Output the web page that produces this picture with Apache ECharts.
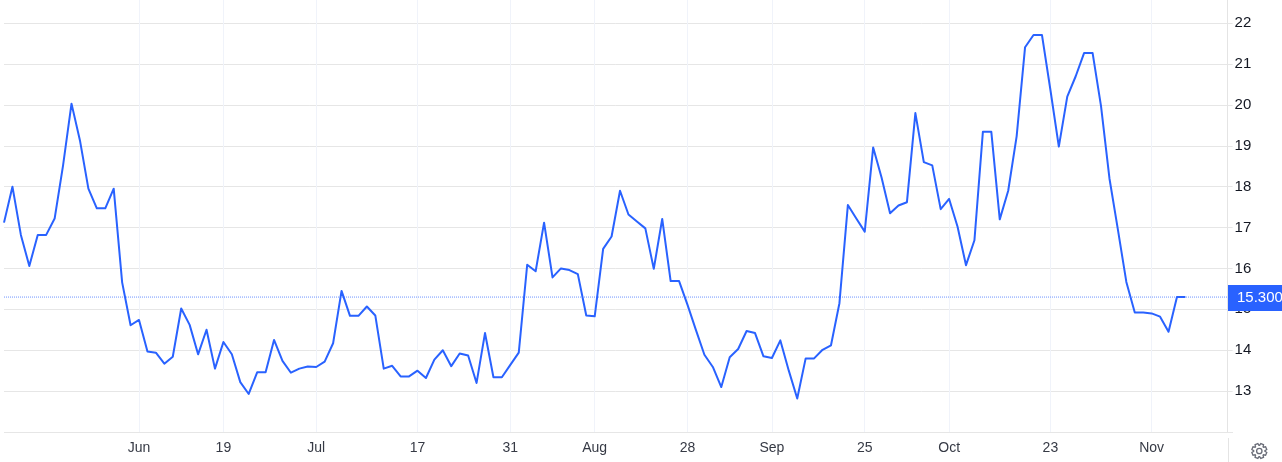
<!DOCTYPE html>
<html>
<head>
<meta charset="utf-8">
<script src="https://cdn.jsdelivr.net/npm/echarts@6/dist/echarts.min.js"></script>
<style>html,body{margin:0;padding:0;background:#fff}#c{width:1282px;height:462px}</style>
</head>
<body>
<div id="c"></div>
<script>
var values = [17.12,18.0,16.82,16.06,16.82,16.82,17.22,18.52,20.03,19.13,17.95,17.47,17.47,17.95,15.66,14.61,14.74,13.97,13.94,13.67,13.84,15.02,14.62,13.9,14.5,13.55,14.2,13.9,13.22,12.93,13.46,13.46,14.25,13.74,13.45,13.55,13.6,13.59,13.72,14.17,15.45,14.84,14.84,15.07,14.85,13.55,13.62,13.36,13.36,13.5,13.32,
13.77,14.0,13.61,13.92,13.87,13.2,14.42,13.34,13.34,13.64,13.94,16.09,15.93,17.12,15.78,16.0,15.96,15.86,14.85,14.83,16.48,16.78,17.9,17.32,17.15,16.98,15.99,17.21,15.69,15.69,15.11,14.49,13.89,13.59,13.1,13.83,14.03,14.47,14.42,13.85,13.81,14.24,13.5,12.82,13.8,13.8,14.01,14.12,15.15,
17.55,17.22,16.9,18.96,18.22,17.35,17.54,17.62,19.8,18.6,18.52,17.45,17.7,17.02,16.08,16.69,19.34,19.34,17.2,17.9,19.23,21.41,21.71,21.71,20.37,18.98,20.2,20.7,21.27,21.27,19.97,18.2,16.95,15.67,14.92,14.92,14.9,14.82,14.45,15.3,15.3];
var tickLabels = ['Jun','19','Jul','17','31','Aug','28','Sep','25','Oct','23','Nov'];
var tickIndexes = [16,26,37,49,60,70,81,91,102,112,124,136];
var yTicks = [13,14,15,16,17,18,19,20,21,22];
var lastPrice = 15.3;
var slotCount = 146;

var categories = [];
var priceLine = [];
for (var i = 0; i < slotCount; i++) {
  var p = tickIndexes.indexOf(i);
  categories.push(p >= 0 ? tickLabels[p] : '');
  priceLine.push(i === 0 || i === slotCount - 1 ? lastPrice : null);
}
var isTick = function (i) { return tickIndexes.indexOf(i) >= 0; };
var FONT = '"Liberation Sans", Arial, sans-serif';
var chart = echarts.init(document.getElementById('c'), null, {renderer: 'canvas'});

var gearPts = [];
for (var t = 0; t < 8; t++) {
  var a = t * Math.PI / 4 + Math.PI / 8;
  [[-0.34, 5.6], [-0.2, 7.6], [0.2, 7.6], [0.34, 5.6]].forEach(function (q) {
    gearPts.push([1259.3 + q[1] * Math.cos(a + q[0]), 451 + q[1] * Math.sin(a + q[0])]);
  });
}

chart.setOption({
  animation: false,
  backgroundColor: '#ffffff',
  grid: {left: 4, top: -17.8, width: 1223.6, height: 449.8, containLabel: false, outerBoundsMode: 'none'},
  xAxis: {
    type: 'category',
    data: categories,
    boundaryGap: false,
    axisLine: {show: false},
    axisTick: {show: false},
    axisLabel: {
      interval: function (i) { return isTick(i); },
      color: '#363a45', fontFamily: FONT, fontSize: 14, margin: 9, hideOverlap: false
    },
    splitLine: {show: true, interval: function (i) { return isTick(i); }, lineStyle: {color: '#f0f3fa', width: 1}}
  },
  yAxis: {
    type: 'value',
    position: 'right',
    min: 12,
    max: 23,
    interval: 1,
    axisLine: {show: true, lineStyle: {color: '#e4e4e4', width: 1}},
    axisTick: {show: true, length: 5, lineStyle: {color: '#e6e6e6'}},
    axisLabel: {color: '#131722', fontFamily: FONT, fontSize: 15, margin: 7, padding: [3, 0, 0, 0], customValues: yTicks, formatter: function (v) { return String(v); }},
    splitLine: {show: true, lineStyle: {color: '#e6e6e6', width: 1}}
  },
  series: [{
    type: 'line',
    data: priceLine,
    connectNulls: true,
    showSymbol: false,
    symbol: 'none',
    silent: true,
    lineStyle: {color: '#6f95ff', width: 1, type: [1, 1]},
    z: 4
  }, {
    type: 'line',
    data: values,
    showSymbol: false,
    symbol: 'none',
    smooth: false,
    lineStyle: {color: '#2962ff', width: 2, join: 'round'},
    z: 5
  }],
  graphic: [
    {type: 'line', z: 3, shape: {x1: 4, y1: 432.5, x2: 1233, y2: 432.5}, style: {stroke: '#e6e6e6', lineWidth: 1}},
    {type: 'line', z: 3, shape: {x1: 1228.5, y1: 438, x2: 1228.5, y2: 462}, style: {stroke: '#e4e4e4', lineWidth: 1}},
    {type: 'rect', z: 10, shape: {x: 1228, y: 285, width: 54, height: 26}, style: {fill: '#2962ff'}},
    {type: 'text', z: 11, style: {x: 1237, y: 298, text: lastPrice.toFixed(3), fill: '#ffffff', font: '15px ' + FONT, textVerticalAlign: 'middle'}},
    {type: 'polygon', z: 11, shape: {points: gearPts}, style: {fill: 'none', stroke: '#6a6d78', lineWidth: 1.3}},
    {type: 'circle', z: 11, shape: {cx: 1259.3, cy: 451, r: 2.7}, style: {fill: 'none', stroke: '#6a6d78', lineWidth: 1.3}}
  ]
});
</script>
</body>
</html>
